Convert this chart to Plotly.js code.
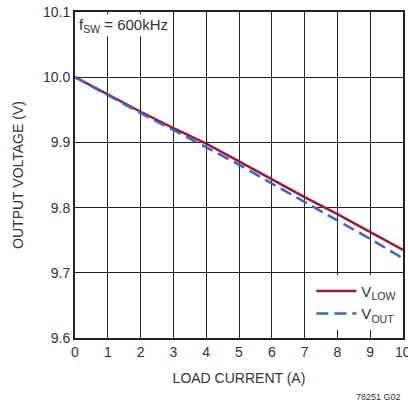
<!DOCTYPE html>
<html><head><meta charset="utf-8">
<script src="https://cdn.plot.ly/plotly-3.0.1.min.js"></script>
<style>html,body{margin:0;padding:0;background:#fff}#c{width:408px;height:403px}</style>
</head><body><div id="c"></div>
<script>
var loadCurrent = [0, 1, 2, 3, 4, 5, 6, 7, 8, 9, 10];
var vLow = [10.0, 9.973, 9.947, 9.922, 9.898, 9.871, 9.843, 9.816, 9.790, 9.762, 9.735];
var vOut = [10.0, 9.972, 9.945, 9.919, 9.893, 9.866, 9.837, 9.809, 9.781, 9.752, 9.722];
var xTicks = [0,1,2,3,4,5,6,7,8,9];
var xLastTick = 10;
var yTicks = [9.6, 9.7, 9.8, 9.9, 10.0, 10.1];
var yTickText = ['9.6','9.7','9.8','9.9','10.0','10.1'];
var F = 'Liberation Sans Narrow, Liberation Sans, Arial, sans-serif';
var traces = [
  {x: loadCurrent, y: vLow, mode: 'lines', name: 'V<sub>LOW</sub>', line: {color: '#9a1a35', width: 2.5}},
  {x: loadCurrent, y: vOut, mode: 'lines', name: 'V<sub>OUT</sub>', line: {color: '#3d63c9', width: 2.5, dash: '12px,6px'}}
];
var layout = {
  width: 408, height: 403,
  margin: {l: 75, r: 5, t: 12, b: 65},
  paper_bgcolor: '#fff', plot_bgcolor: '#fff',
  font: {family: F, size: 14, color: '#333'},
  showlegend: true,
  legend: {x: 0.995, y: 0.025, xanchor: 'right', yanchor: 'bottom', bgcolor: '#fff',
           font: {family: F, size: 15, color: '#333'}, tracegroupgap: 0, itemwidth: 40,
           tracegroupgap: 0},
  xaxis: {range: [0, 10], tickvals: loadCurrent, ticktext: loadCurrent.map(String), showgrid: true,
          gridcolor: '#222', gridwidth: 1, showline: true, linecolor: '#222', linewidth: 2, mirror: true,
          ticks: 'inside', ticklen: 6, tickcolor: '#222', zeroline: false,
          tickfont: {family: F, size: 14, color: '#333'},
          title: {text: 'LOAD CURRENT (A)', font: {family: F, size: 14, color: '#333'}, standoff: 14}},
  yaxis: {range: [9.6, 10.1], tickvals: yTicks, ticktext: yTickText, showgrid: true,
          gridcolor: '#222', gridwidth: 1, showline: true, linecolor: '#222', linewidth: 2, mirror: true,
          ticks: '', zeroline: false,
          tickfont: {family: F, size: 14, color: '#333'},
          title: {text: 'OUTPUT VOLTAGE (V)', font: {family: F, size: 14, color: '#333'}, standoff: 16}},
  annotations: [
    {xref: 'paper', yref: 'paper', x: 0.005, y: 0.995, xanchor: 'left', yanchor: 'top',
     text: 'f<sub>SW</sub> = 600kHz', showarrow: false, bgcolor: '#fff',
     font: {family: F, size: 15, color: '#333'}},
    {xref: 'x', yref: 'paper', x: xLastTick, y: -0.012, xanchor: 'center', yanchor: 'top',
     text: String(xLastTick), showarrow: false, font: {family: F, size: 14, color: '#333'}},
    {xref: 'paper', yref: 'paper', x: 1.0, y: -0.16, xanchor: 'right', yanchor: 'top',
     text: '78251 G02', showarrow: false, font: {family: F, size: 9, color: '#333'}}
  ]
};
Plotly.newPlot('c', traces, layout, {staticPlot: true, displayModeBar: false});
</script></body></html>
